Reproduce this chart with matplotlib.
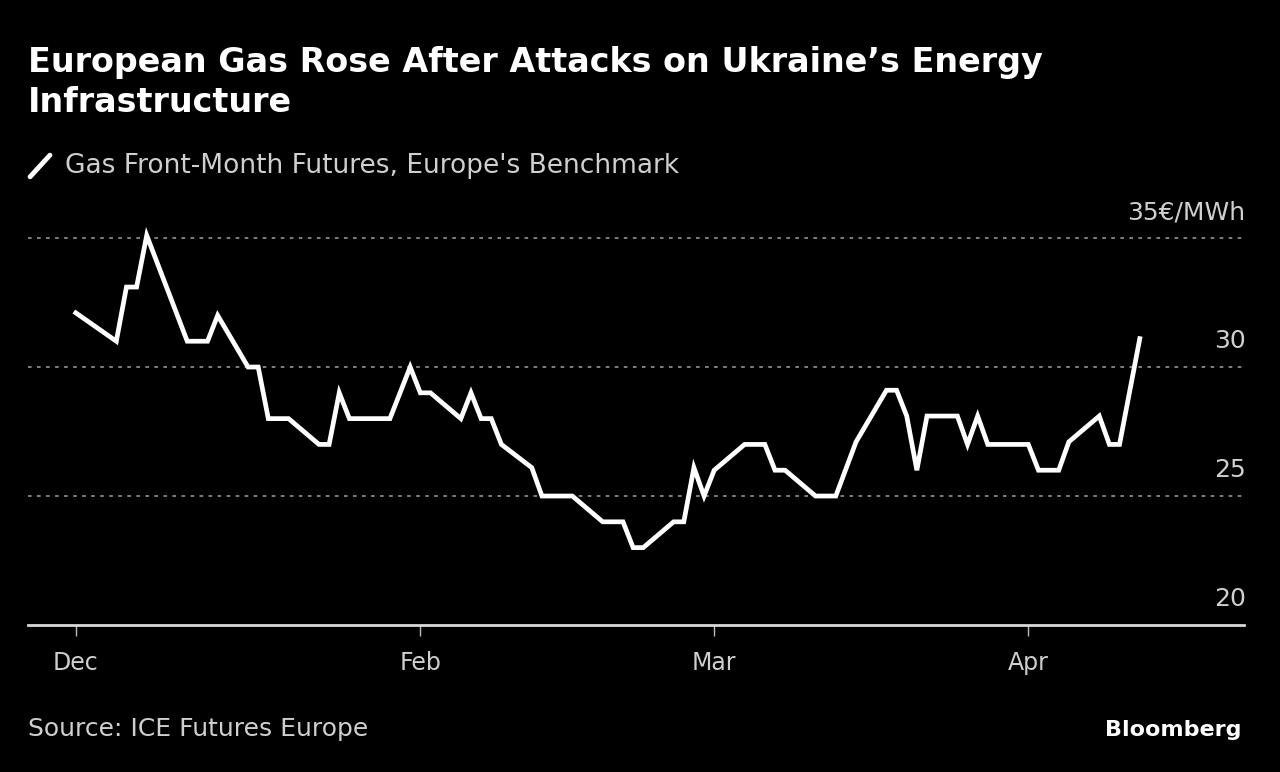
import datetime as dt
import matplotlib
matplotlib.use("Agg")
import matplotlib.pyplot as plt
from matplotlib.lines import Line2D

# gas front-month futures, EUR/MWh
dates = [
    "2023-12-29", "2024-01-02", "2024-01-03", "2024-01-04", "2024-01-05",
    "2024-01-09", "2024-01-11", "2024-01-12", "2024-01-15", "2024-01-16",
    "2024-01-17", "2024-01-19", "2024-01-22", "2024-01-23", "2024-01-24",
    "2024-01-25", "2024-01-29", "2024-01-31", "2024-02-01", "2024-02-02",
    "2024-02-05", "2024-02-06", "2024-02-07", "2024-02-08", "2024-02-09",
    "2024-02-12", "2024-02-13", "2024-02-16", "2024-02-19", "2024-02-21",
    "2024-02-22", "2024-02-23", "2024-02-26", "2024-02-27", "2024-02-28",
    "2024-02-29", "2024-03-01", "2024-03-04", "2024-03-06", "2024-03-07",
    "2024-03-08", "2024-03-11", "2024-03-13", "2024-03-15", "2024-03-18",
    "2024-03-19", "2024-03-20", "2024-03-21", "2024-03-22", "2024-03-25",
    "2024-03-26", "2024-03-27", "2024-03-28", "2024-04-01", "2024-04-02",
    "2024-04-04", "2024-04-05", "2024-04-08", "2024-04-09", "2024-04-10",
    "2024-04-12",
]
prices = [
    32.1, 31.0, 33.1, 33.1, 35.1,
    31.0, 31.0, 32.0, 30.0, 30.0,
    28.0, 28.0, 27.0, 27.0, 29.0,
    28.0, 28.0, 30.0, 29.0, 29.0,
    28.0, 29.0, 28.0, 28.0, 27.0,
    26.1, 25.0, 25.0, 24.0, 24.0,
    23.0, 23.0, 24.0, 24.0, 26.1,
    25.0, 26.0, 27.0, 27.0, 26.0,
    26.0, 25.0, 25.0, 27.1, 29.1,
    29.1, 28.1, 26.0, 28.1, 28.1,
    27.0, 28.1, 27.0, 27.0, 26.0,
    26.0, 27.1, 28.1, 27.0, 27.0,
    31.1,
]

tick_dates = ["2023-12-29", "2024-02-01", "2024-03-01", "2024-04-01"]
tick_labels = ["Dec", "Feb", "Mar", "Apr"]
y_ticks = [20, 25, 30, 35]
y_labels = ["20", "25", "30", "35€/MWh"]

title = "European Gas Rose After Attacks on Ukraine’s Energy\nInfrastructure"
legend_label = "Gas Front-Month Futures, Europe's Benchmark"
source = "Source: ICE Futures Europe"

plt.rcParams["font.family"] = "DejaVu Sans"

BG = "black"
GREY = "#cfcfcf"

x = [dt.datetime.fromisoformat(d) for d in dates]
xt = [dt.datetime.fromisoformat(d) for d in tick_dates]

fig = plt.figure(figsize=(12.8, 7.72), dpi=100, facecolor=BG)
ax = fig.add_axes([0.022, 0.1904, 0.950, 0.5514])
ax.set_facecolor(BG)

feb1 = dt.datetime(2024, 2, 1)
ax.set_xlim(feb1 - dt.timedelta(days=38.7), feb1 + dt.timedelta(days=81.3))
ax.set_ylim(20, 36.5)

for v in y_ticks[1:]:
    ax.axhline(v, color="#8a8a8a", lw=1.3, ls=(0, (2, 3)), zorder=1)

ax.plot(x, prices, color="white", lw=3.4, solid_joinstyle="miter", zorder=3)

for s in ["top", "right", "left"]:
    ax.spines[s].set_visible(False)
ax.spines["bottom"].set_color("#d8d8d8")
ax.spines["bottom"].set_linewidth(2)

ax.set_xticks(xt)
ax.set_xticklabels(tick_labels)
ax.tick_params(axis="x", colors="#bdbdbd", length=8, width=1, pad=11,
               labelcolor=GREY, labelsize=17)
ax.set_yticks([])

for v, lab in zip(y_ticks, y_labels):
    ax.annotate(lab, xy=(1.0, v), xycoords=("axes fraction", "data"),
                xytext=(1, 10), textcoords="offset points",
                ha="right", va="bottom", color=GREY, fontsize=18)

fig.text(0.022, 0.940, title, ha="left", va="top", color="white",
         fontsize=24, fontweight="bold", linespacing=1.25)

fig.add_artist(Line2D([0.0235, 0.039], [0.771, 0.799], color="white",
                      lw=3.5, solid_capstyle="round"))
fig.text(0.0505, 0.785, legend_label, ha="left", va="center", color=GREY,
         fontsize=19)

fig.text(0.022, 0.046, source, ha="left", va="baseline", color=GREY,
         fontsize=18)
fig.text(0.970, 0.046, "Bloomberg", ha="right", va="baseline", color="white",
         fontsize=16, fontweight="bold")

fig.savefig("out.png", dpi=100, facecolor=BG)
